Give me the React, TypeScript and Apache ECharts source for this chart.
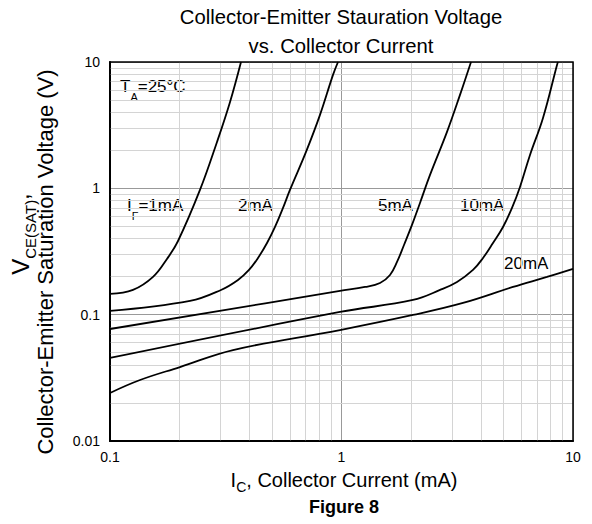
import React, { useEffect, useRef } from 'react';
import * as echarts from 'echarts';

const FONT = '"Liberation Sans", Arial, Helvetica, sans-serif';

// Collector current (mA) / V_CE(SAT) (V), one pair of arrays per I_F curve
const current1mA = [0.1, 0.1257, 0.1534, 0.1762, 0.1967, 0.2447, 0.2899, 0.33, 0.368];
const vce1mA = [0.146, 0.157, 0.199, 0.276, 0.383, 0.971, 2.33, 4.83, 10];

const current2mA = [0.1, 0.2216, 0.3016, 0.3572, 0.3985, 0.4358, 0.4767, 0.5162, 0.5589, 0.5989, 0.7026, 0.8074, 0.9189, 0.9658];
const vce2mA = [0.107, 0.1284, 0.1569, 0.1883, 0.2259, 0.2811, 0.3695, 0.4946, 0.6997, 0.971, 1.942, 3.813, 7.905, 10];

const current5mA = [0.1, 0.985, 1.263, 1.467, 1.62, 1.737, 1.862, 2.016, 2.183, 2.412, 2.856, 3.25, 3.626];
const vce5mA = [0.077, 0.154, 0.1657, 0.1782, 0.2062, 0.2615, 0.3562, 0.5131, 0.7663, 1.277, 2.797, 5.49, 10];

const current10mA = [0.1, 0.985, 2.036, 2.665, 3.155, 3.698, 4.086, 4.512, 4.985, 5.451, 5.902, 6.52, 7.42, 8.53, 8.61];
const vce10mA = [0.0454, 0.105, 0.1307, 0.1569, 0.1815, 0.2259, 0.2811, 0.3695, 0.4946, 0.6997, 1.026, 1.838, 3.61, 9.48, 10];

const current20mA = [0.1, 0.1348, 0.2006, 0.3399, 0.985, 2.036, 3.349, 5.506, 7.72, 10];
const vce20mA = [0.024, 0.0304, 0.0385, 0.0525, 0.0756, 0.0995, 0.1238, 0.1657, 0.1988, 0.23];

const curveNames = ['IF=1mA', 'IF=2mA', 'IF=5mA', 'IF=10mA', 'IF=20mA'];
const curveCurrents = [current1mA, current2mA, current5mA, current10mA, current20mA];
const curveVoltages = [vce1mA, vce2mA, vce5mA, vce10mA, vce20mA];

// minor grid positions of the log-log paper
const xMinorGrid = [0.2, 0.3, 0.4, 0.5, 0.6, 0.7, 0.8, 0.9, 2, 3, 4, 5, 6, 7, 8, 9];
const yMinorGrid = [
  0.02, 0.03, 0.04, 0.05, 0.06, 0.07, 0.08, 0.09,
  0.2, 0.3, 0.4, 0.5, 0.6, 0.7, 0.8, 0.9,
  2, 3, 4, 5, 6, 7, 8, 9,
];
const xRange = [0.1, 10];
const yRange = [0.01, 10];

const fmt = (v: number) => String(Number(v.toPrecision(6)));

function textEl(text: string, x: number, y: number, size: number, align = 'left', vAlign = 'middle', weight = 'normal') {
  return {
    type: 'text',
    x,
    y,
    silent: true,
    style: {
      text,
      fill: '#000',
      font: `${weight} ${size}px ${FONT}`,
      align,
      verticalAlign: vAlign,
      textAlign: align,
      textVerticalAlign: vAlign,
    },
  };
}

// text with a subscript: main tokens aligned to top, subscript centred lower in a taller line
function subText(main1: string, sub: string, main2: string, x: number, y: number, size: number, subSize: number, drop: number, align = 'left', rotation = 0) {
  return {
    type: 'text',
    x,
    y,
    rotation,
    silent: true,
    style: {
      text: `{m|${main1}}{s|${sub}}{m|${main2}}`,
      align,
      verticalAlign: 'middle',
      textAlign: align,
      textVerticalAlign: 'middle',
      rich: {
        m: { fontSize: size, fontFamily: FONT, color: '#000', fill: '#000', lineHeight: size, verticalAlign: 'top' },
        s: { fontSize: subSize, fontFamily: FONT, color: '#000', fill: '#000', lineHeight: size + 2 * drop, verticalAlign: 'middle' },
      },
    },
  };
}

export default function App() {
  const ref = useRef<HTMLDivElement>(null);
  useEffect(() => {
    const chart = echarts.init(ref.current!, null, { renderer: 'svg' });
    const curves = curveNames.map((name, i) => ({
      name,
      type: 'line',
      data: curveCurrents[i].map((c, k) => [c, curveVoltages[i][k]]),
      showSymbol: false,
      symbol: 'none',
      smooth: 0.4,
      z: 5,
      lineStyle: { color: '#000', width: 1.8 },
    }));
    const option: any = {
      animation: false,
      backgroundColor: '#fff',
      grid: {
        left: 110,
        top: 62,
        width: 463,
        height: 379,
        show: true,
        borderColor: '#000',
        borderWidth: 1.5,
        backgroundColor: 'transparent',
        z: 6,
      },
      xAxis: {
        type: 'log',
        logBase: 10,
        min: xRange[0],
        max: xRange[1],
        axisLine: { show: true, onZero: false, lineStyle: { color: '#000', width: 2 } },
        axisTick: { show: false },
        axisLabel: { color: '#000', fontSize: 14, fontFamily: FONT, margin: 9, formatter: fmt },
        splitLine: { show: true, lineStyle: { color: '#999', width: 1 } },
      },
      yAxis: {
        type: 'log',
        logBase: 10,
        min: yRange[0],
        max: yRange[1],
        axisLine: { show: true, onZero: false, lineStyle: { color: '#000', width: 2 } },
        axisTick: { show: false },
        axisLabel: { color: '#000', fontSize: 14, fontFamily: FONT, margin: 10, formatter: fmt },
        splitLine: { show: true, lineStyle: { color: '#999', width: 1 } },
      },
      series: [
        {
          name: 'minor grid',
          type: 'lines',
          coordinateSystem: 'cartesian2d',
          silent: true,
          z: 1,
          lineStyle: { color: '#d4d4d4', width: 1, opacity: 1, curveness: 0 },
          data: [
            ...xMinorGrid.map((v) => ({ coords: [[v, yRange[0]], [v, yRange[1]]] })),
            ...yMinorGrid.map((v) => ({ coords: [[xRange[0], v], [xRange[1], v]] })),
          ],
        },
        ...curves,
      ],
      graphic: [
        textEl('Collector-Emitter Stauration Voltage', 341, 17, 20.3, 'center'),
        textEl('vs. Collector Current', 341, 46, 20.3, 'center'),
        textEl('Figure 8', 344, 507, 18, 'center', 'middle', 'bold'),
        // x axis name
        subText('I', 'C', ', Collector Current (mA)', 344, 487, 20, 14, 7, 'center'),
        // y axis name, first line
        {
          type: 'text',
          x: 30,
          y: 234,
          rotation: Math.PI / 2,
          silent: true,
          style: {
            text: '{v|V}{s|CE(SAT)}{v|,}',
            align: 'center',
            verticalAlign: 'middle',
            textAlign: 'center',
            textVerticalAlign: 'middle',
            rich: {
              v: { fontSize: 24, fontFamily: FONT, fill: '#000', color: '#000', lineHeight: 24, verticalAlign: 'top' },
              s: { fontSize: 15, fontFamily: FONT, fill: '#000', color: '#000', lineHeight: 44, verticalAlign: 'middle' },
            },
          },
        },
        // y axis name, second line
        {
          type: 'text',
          x: 45,
          y: 262,
          rotation: Math.PI / 2,
          silent: true,
          style: {
            text: 'Collector-Emitter Saturation Voltage (V)',
            font: `22px ${FONT}`,
            fill: '#000',
            align: 'center',
            verticalAlign: 'middle',
            textAlign: 'center',
            textVerticalAlign: 'middle',
          },
        },
        subText('T', 'A', '=25°C', 120, 97, 17, 11, 11),
        subText('I', 'F', '=1mA', 127, 216, 17, 11, 11),
        textEl('2mA', 238, 205, 17),
        textEl('5mA', 378, 205, 17),
        textEl('10mA', 460, 205, 17),
        textEl('20mA', 504, 263, 17),
      ],
    };
    chart.setOption(option);
    return () => chart.dispose();
  }, []);
  return (
    <div
      ref={ref}
      style={{ position: 'fixed', left: 0, top: 0, width: 592, height: 524, background: '#fff' }}
    />
  );
}
